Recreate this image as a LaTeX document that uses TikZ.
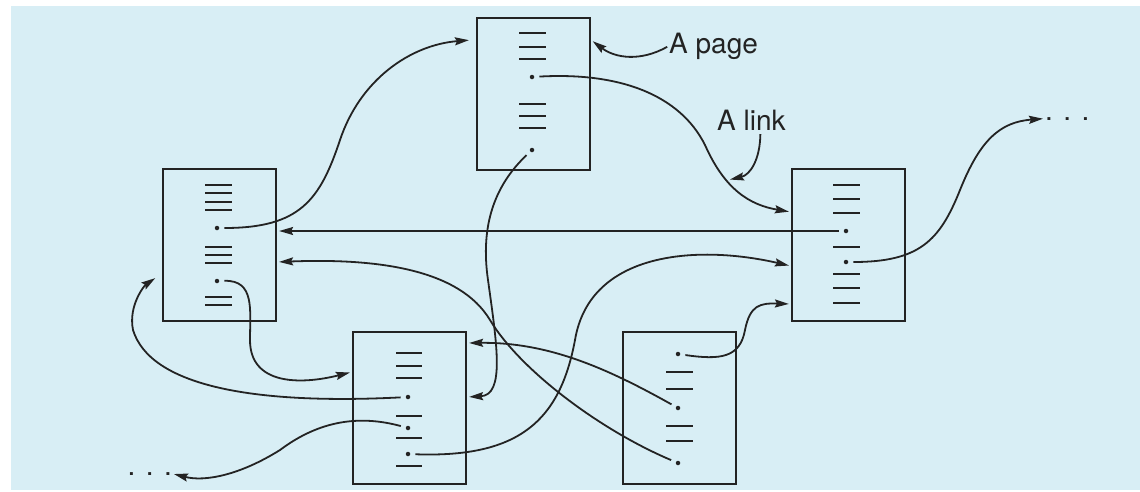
\documentclass[tikz,border=0pt]{standalone}
\usepackage{fontspec}
\setmainfont{TeX Gyre Heros}
\usetikzlibrary{arrows.meta}
\definecolor{paleblue}{RGB}{216,238,245}
\definecolor{ink}{RGB}{35,35,35}

\begin{document}
\begin{tikzpicture}[x=1pt,y=-1pt,
		page/.style={draw=ink,line width=2.2pt,inner sep=0pt,minimum width=113pt,minimum height=152pt},
		bar/.style={ink,line width=2.4pt},
		spot/.style={circle,fill=ink,inner sep=0pt,minimum size=4.5pt},
		link/.style={ink,line width=1.8pt,-{Stealth[length=14pt,width=8pt,inset=2pt]},shorten <=5pt,shorten >=2pt},
		lbl/.style={font=\fontsize{28}{30}\selectfont,inner sep=0pt,text=ink}]
	\useasboundingbox (0,0) rectangle (1140,491);
	\fill[paleblue] (11,6) rectangle (1140,490);
	
	% Pages
	\node[page] (pTop) at (533.5,94) {};
	\node[page] (pLeft) at (219.5,245) {};
	\node[page] (pRight) at (848.5,245) {};
	\node[page] (pMid) at (409.5,408) {};
	\node[page] (pLow) at (679.5,408) {};
	
	% Text lines on the pages
	\foreach \y in {33,47,59,104,116,128} \draw[bar] (519,\y) -- (546,\y);
	\foreach \y in {185,193,202,210,247,255,263,297,305} \draw[bar] (205,\y) -- (232,\y);
	\foreach \y in {185,199,213,247,274,288,303} \draw[bar] (833,\y) -- (860,\y);
	\foreach \y in {353,366,378,416,438,466} \draw[bar] (396,\y) -- (422,\y);
	\foreach \y in {372,389,426,441} \draw[bar] (666,\y) -- (693,\y);
	
	% Link anchors
	\node[spot] (t1) at (532,77) {};
	\node[spot] (t2) at (532,150) {};
	\node[spot] (l1) at (217,228) {};
	\node[spot] (l2) at (217,281) {};
	\node[spot] (r1) at (846,231) {};
	\node[spot] (r2) at (846,262) {};
	\node[spot] (m1) at (408,397) {};
	\node[spot] (m2) at (408,428) {};
	\node[spot] (m3) at (408,454) {};
	\node[spot] (b1) at (678,354) {};
	\node[spot] (b2) at (678,408) {};
	\node[spot] (b3) at (678,463) {};
	
	% Labels
	\node[lbl,anchor=base west] (lblPage) at (669,53) {A page};
	\node[lbl,anchor=base west] (lblLink) at (717,130) {A link};
	\node[lbl,anchor=base west] (dotsR) at (1045,120) {. . .};
	\node[lbl,anchor=base east] (dotsL) at (172,475) {. . .};
	\coordinate (onLink) at (728,180);
	
	% Links
	\draw[link] (t1) .. controls (620,72) and (680,95) .. (705,145) .. controls (725,190) and (750,205) .. ([yshift=33pt]pRight.west);
	\draw[link] (l1) .. controls (300,228) and (320,200) .. (340,140) .. controls (360,80) and (410,45) .. ([yshift=54pt,xshift=-5pt]pTop.west);
	\draw[link] (r1) -- (r1 -| pLeft.east);
	\draw[link] (r2) .. controls (920,262) and (940,240) .. (960,190) .. controls (980,140) and (1000,122) .. (dotsR.west);
	\draw[link] (l2) .. controls (255,280) and (250,310) .. (250,340) .. controls (250,385) and (300,385) .. ([yshift=36pt]pMid.west);
	\draw[link] (m1) .. controls (250,405) and (150,385) .. (133,330) .. controls (128,305) and (145,285) .. ([yshift=-32pt,xshift=-5pt]pLeft.west);
	\draw[link] (m2) .. controls (360,415) and (320,420) .. (280,450) .. controls (240,475) and (205,482) .. (dotsL.east);
	\draw[link] (m3) .. controls (520,458) and (560,420) .. (575,340) .. controls (590,250) and (700,245) .. ([yshift=-21pt]pRight.west);
	\draw[link] (t2) .. controls (495,185) and (480,225) .. (488,280) .. controls (497,345) and (505,395) .. ([yshift=11pt]pMid.east);
	\draw[link] (b2) .. controls (610,370) and (550,342) .. ([yshift=65pt]pMid.east);
	\draw[link] (b3) .. controls (600,430) and (520,370) .. (490,320) .. controls (460,270) and (380,258) .. ([yshift=-17pt]pLeft.east);
	\draw[link] (b1) .. controls (720,360) and (740,358) .. (745,330) .. controls (750,305) and (760,303) .. ([yshift=-59pt]pRight.west);
	
	% Label pointers
	\draw[link,shorten <=2pt] (lblPage.west) .. controls (640,62) and (615,58) .. ([yshift=54pt]pTop.east);
	\draw[link,shorten <=4pt] ([xshift=9pt]lblLink.south) .. controls (760,160) and (750,175) .. (onLink);
\end{tikzpicture}
\end{document}
